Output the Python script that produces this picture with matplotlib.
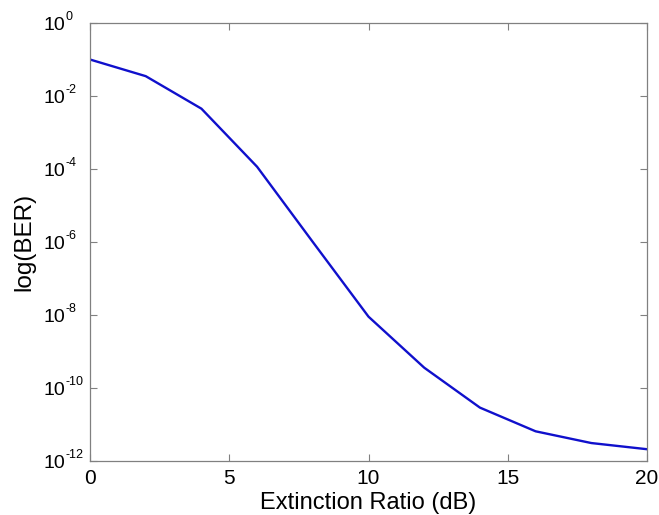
import matplotlib
matplotlib.use('Agg')
import matplotlib.pyplot as plt
import matplotlib.transforms as mtransforms
import numpy as np

# extinction ratio (dB) and bit error rate
ext_ratio = [0, 2, 4, 6, 8, 10, 12, 14, 16, 18, 20]
ber = [1.0e-1, 3.5e-2, 4.5e-3, 1.15e-4, 1.0e-6, 9.0e-9,
       3.6e-10, 2.9e-11, 6.5e-12, 3.1e-12, 2.1e-12]

x_ticks = [0, 5, 10, 15, 20]
y_exps = [0, -2, -4, -6, -8, -10, -12]

plt.rcParams['font.family'] = ['Liberation Sans', 'DejaVu Sans']

fig = plt.figure(figsize=(6.59, 5.15), dpi=100)
ax = fig.add_axes([0.1366, 0.1049, 0.8452, 0.8504])

ax.semilogy(ext_ratio, ber, color='#1010cc', linewidth=1.7)

ax.set_xlim(0, 20)
ax.set_ylim(1e-12, 1e0)
ax.set_xticks(x_ticks)
ax.set_xticklabels([str(t) for t in x_ticks])
ax.set_yticks([10.0 ** e for e in y_exps])
ax.set_yticklabels([])
ax.yaxis.set_minor_locator(matplotlib.ticker.NullLocator())

# matlab style log labels: big "10" with a small exponent
ytrans = ax.get_yaxis_transform()
base_tr = mtransforms.offset_copy(ytrans, fig=fig, x=-25, y=-7, units='dots')
exp_tr = mtransforms.offset_copy(ytrans, fig=fig, x=-25, y=3, units='dots')
for e in y_exps:
    ax.text(0, 10.0 ** e, '10', transform=base_tr, ha='right', va='baseline',
            fontsize=14, clip_on=False)
    ax.text(0, 10.0 ** e, str(e), transform=exp_tr,
            ha='left', va='baseline', fontsize=9, clip_on=False)

for s in ax.spines.values():
    s.set_color('#808080')
    s.set_linewidth(0.9)
ax.tick_params(direction='in', top=True, right=True, length=5,
               color='#808080', labelsize=15)
ax.tick_params(axis='x', pad=5.5)

ax.set_xlabel('Extinction Ratio (dB)', fontsize=17, va='top')
ax.set_ylabel('log(BER)', fontsize=17.5)
ax.xaxis.set_label_coords(0.5, -0.07)
ax.yaxis.set_label_coords(-0.099, 0.5)

fig.savefig('out.png', dpi=100)
